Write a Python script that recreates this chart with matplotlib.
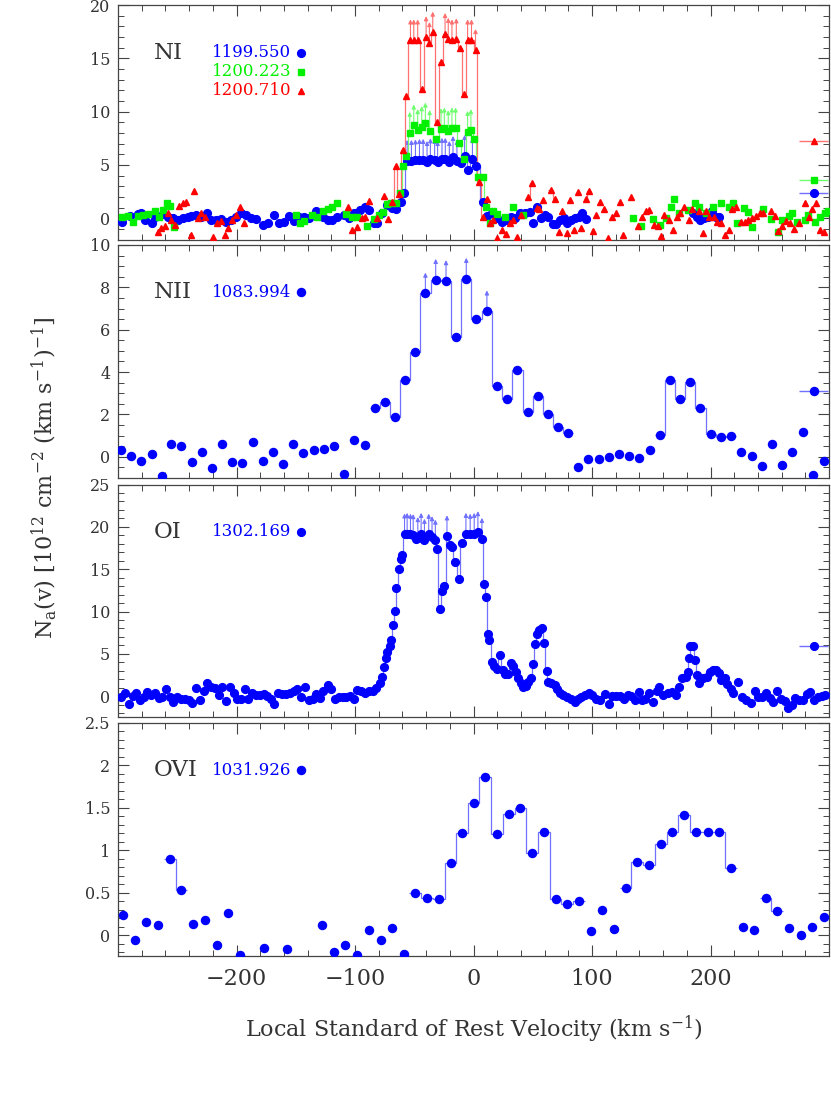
#!/usr/bin/env python3
import matplotlib
matplotlib.use("Agg")
import matplotlib.pyplot as plt
import numpy as np
from matplotlib.ticker import MultipleLocator, FixedLocator, FormatStrFormatter
from matplotlib.transforms import offset_copy


# ---- N I, three lines (velocity in km/s, Na(v) in 1e12 cm^-2 (km/s)^-1) ----
NI_1199_V = [-296.9, -289.9, -282.9, -280.7, -277.3, -271.7, -268.9, -261.9, -257.7, -253.5,
             -249.3, -245.1, -240.9, -238.1, -233.9, -229.7, -224.6, -221.3, -217.1, -212.9,
             -208.7, -204.5, -200.3, -196.1, -191.9, -187.6, -183.4, -177.8, -173.6, -168.1,
             -163.9, -159.7, -155.5, -151.3, -147.1, -142.8, -138.6, -133.0, -127.4, -123.2,
             -119.0, -114.8, -109.2, -105.0, -100.8, -95.8, -91.6, -88.2, -84.0, -81.2,
             -77.0, -72.8, -68.6, -65.8, -61.6, -58.8, -56.0, -52.4, -49.0, -45.6,
             -42.5, -39.2, -36.4, -32.8, -30.3, -26.6, -23.8, -20.4, -17.3, -14.0,
             -10.3, -7.5, -4.3, -0.9, 2.2, 8.4, 11.8, 15.4, 19.6, 23.8,
             28.0, 31.4, 35.0, 39.2, 43.4, 47.6, 50.4, 53.3, 56.9, 60.2,
             63.0, 66.7, 70.0, 72.8, 76.2, 79.0, 82.6, 86.0, 89.1, 91.9,
             95.2, 184.9, 188.3, 191.1, 194.7, 198.3, 201.2, 204.5, 207.3]
NI_1199_N = [-0.32, 0.22, 0.37, 0.47, -0.16, -0.41, 0.15, 0.40, 0.15, 0.00,
             -0.16, 0.00, 0.15, 0.22, 0.31, 0.15, 0.47, -0.16, -0.16, -0.06,
             -0.32, -0.16, 0.15, 0.53, 0.31, 0.00, -0.10, -0.63, -0.41, 0.31,
             -0.41, -0.32, 0.22, -0.22, 0.15, 0.15, 0.00, 0.68, 0.15, -0.16,
             -0.16, 0.15, 0.31, 0.00, 0.47, 0.78, 1.03, 0.78, -0.41, -0.41,
             0.47, 1.25, 0.94, 0.84, 1.56, 2.34, 5.40, 5.40, 5.45, 5.50,
             5.50, 5.30, 5.55, 5.50, 5.30, 5.60, 5.60, 5.30, 5.77, 5.40,
             5.15, 5.87, 4.55, 5.60, 4.93, 1.53, 0.22, 0.47, 0.00, -0.32,
             -0.16, 0.15, 0.00, 0.47, 0.53, 0.62, -0.41, 1.03, 0.00, 0.31,
             0.15, -0.56, -0.53, -0.16, 0.00, -0.41, -0.16, 0.00, 0.15, 0.47,
             -0.06, 0.53, 0.15, -0.16, 0.00, 0.09, 0.71, 0.15, 0.09]
NI_1199_LIM = [-56.0, -52.4, -49.0, -45.6, -42.5, -39.2, -36.4, -32.8, -30.3, -26.6,
               -23.8, -20.4, -17.3, -14.0, -7.5, -0.9]

NI_1200A_V = [-296.3, -291.3, -287.1, -282.9, -278.7, -274.5, -268.9, -265.5, -261.9, -258.8,
              -256.0, -252.7, -149.9, -146.2, -142.8, -136.7, -132.2, -127.4, -123.2, -119.0,
              -114.8, -107.8, -102.2, -98.0, -89.6, -84.0, -79.8, -76.2, -72.8, -69.4,
              -65.8, -62.1, -59.4, -56.8, -53.8, -50.4, -47.1, -43.7, -40.6, -37.0,
              -31.3, -27.4, -24.6, -21.3, -18.2, -15.1, -12.0, -8.4, -5.0, -2.2,
              0.8, 4.2, 7.6, 10.7, 14.0, 16.8, 20.2, 26.6, 33.1, 42.0,
              135.0, 141.5, 151.3, 157.7, 162.5, 166.5, 169.5, 173.7, 180.7, 187.1,
              189.9, 196.1, 202.2, 209.2, 215.7, 219.1, 222.7, 228.3, 231.9, 234.8,
              244.3, 250.7, 257.2, 260.5, 266.1, 268.9, 273.2, 280.1, 282.4, 288.0,
              292.7, 296.4, 299.2]
NI_1200A_N = [0.15, 0.22, -0.32, 0.22, 0.31, 0.37, 0.68, 0.09, 0.78, 1.46,
              1.15, -0.78, 0.31, -0.47, -0.22, 0.31, 0.15, 0.71, 0.84, 1.03,
              1.46, 0.37, 0.09, 0.09, -0.72, -0.10, 0.31, 0.62, 1.34, 1.40,
              1.40, 2.40, 4.87, 5.87, 8.03, 8.72, 8.28, 8.56, 8.90, 8.20,
              7.40, 8.37, 8.44, 8.18, 8.44, 8.44, 7.08, 5.53, 8.12, 8.28,
              7.46, 3.90, 3.90, 1.03, -0.41, 0.68, 0.37, 0.15, 1.03, 0.31,
              0.00, -0.72, -0.10, -0.66, 0.00, 1.10, 1.78, 0.53, 0.78, 1.47,
              1.09, 0.47, 1.03, 1.40, 1.09, 1.40, -0.41, 0.93, 0.56, -0.78,
              0.84, -0.06, -1.25, -0.16, 0.22, 0.47, -0.32, -0.16, 0.31, -0.32,
              0.15, 0.47, 0.71]
NI_1200A_LIM = [-53.8, -50.4, -47.1, -43.7, -40.6, -37.0, -27.4, -24.6, -21.3, -18.2,
                -15.1, -5.0, -2.2]

NI_1200B_V = [-266.6, -263.8, -260.5, -257.7, -254.9, -251.5, -248.7, -245.1, -242.3, -238.7,
              -235.8, -232.5, -229.7, -226.3, -219.6, -216.3, -212.9, -210.1, -207.3, -203.9,
              -200.3, -197.2, -193.8, -106.0, -102.5, -98.6, -94.5, -91.2, -87.9, -81.8,
              -75.6, -72.3, -68.6, -65.8, -63.0, -59.7, -56.6, -53.2, -50.4, -47.1,
              -43.7, -40.0, -37.2, -34.4, -30.8, -27.4, -24.0, -21.3, -18.2, -14.5,
              -11.2, -7.8, -5.0, -1.7, 1.7, 4.8, 7.8, 11.2, 14.0, 16.8,
              20.2, 23.8, 27.5, 30.8, 33.6, 37.0, 40.1, 46.2, 49.0, 53.2,
              55.5, 58.9, 65.0, 68.7, 72.0, 75.1, 79.0, 81.8, 84.6, 88.3,
              91.1, 94.7, 97.5, 100.8, 103.7, 107.0, 110.1, 113.5, 117.1, 119.9,
              123.3, 126.1, 133.1, 138.7, 142.3, 145.7, 148.5, 151.9, 155.5, 158.3,
              161.1, 164.7, 168.1, 171.5, 174.3, 177.9, 181.5, 184.3, 190.0, 193.3,
              196.1, 198.9, 203.1, 205.9, 208.7, 212.4, 215.7, 218.5, 221.9, 225.5,
              229.2, 232.0, 235.3, 238.1, 241.5, 244.3, 250.7, 254.4, 257.2, 260.0,
              263.3, 267.5, 270.3, 274.5, 279.6, 282.9, 285.7, 289.1, 292.2, 295.5]
NI_1200B_N = [-1.25, -0.88, -0.72, 0.47, -0.16, -0.63, 1.15, 1.46, 1.56, -1.56,
              2.59, 0.00, 0.53, 0.09, -1.78, -0.41, -0.22, -1.56, -0.90, -0.16,
              0.31, 1.09, -0.47, 1.09, -1.09, -0.85, 0.00, 0.15, 1.62, 0.00,
              2.09, -0.06, 1.56, 4.90, 2.28, 6.40, 11.47, 16.70, 16.70, 16.70,
              12.15, 17.00, 16.45, 17.43, 9.00, 14.70, 17.30, 16.85, 16.70, 16.80,
              16.00, 11.70, 16.70, 16.70, 15.80, 3.40, 0.15, 1.78, -0.41, -0.16,
              -1.87, -1.10, -1.50, -0.41, -0.16, -1.72, 0.31, 2.03, 3.28, 0.94,
              0.84, 1.72, 2.65, 1.81, -1.31, 0.71, -1.41, 1.72, -1.10, 2.50,
              -0.94, 1.81, 2.59, -1.16, 0.31, 1.56, 0.87, -1.81, 0.09, 0.47,
              1.50, -1.56, 2.03, -0.69, 0.09, 0.71, 0.78, -0.63, -0.69, -1.63,
              0.31, -0.16, -1.10, 0.09, 0.53, 1.03, -0.16, 0.84, 0.71, -1.41,
              0.71, 0.15, 0.15, -0.32, -0.41, -1.56, -1.10, 0.84, 1.03, -0.32,
              -0.32, -0.16, 0.00, 0.22, 0.47, 0.47, 0.71, 0.25, -1.16, -0.69,
              -0.22, -0.41, -1.00, -0.41, 1.40, 0.09, 0.84, 1.46, -1.10, -1.25]
NI_1200B_LIM = [-53.2, -50.4, -47.1, -40.0, -37.2, -34.4, -24.0, -21.3, -18.2, -14.5,
                -5.0, -1.7, 1.7]

# ---- N II 1083.994 ----
NII_V = [-297.5, -289.0, -280.7, -271.7, -263.0, -254.9, -246.5, -237.5, -229.0, -220.4,
         -212.0, -203.6, -195.0, -186.2, -177.8, -169.2, -160.8, -152.0, -143.7, -135.0,
         -126.3, -117.6, -108.9, -100.5, -91.8, -83.4, -74.8, -66.4, -58.0, -49.3,
         -40.6, -31.9, -23.2, -14.8, -6.1, 2.3, 11.3, 19.9, 28.6, 37.0,
         45.7, 54.1, 62.8, 71.5, 79.8, 88.2, 97.0, 105.6, 114.3, 123.0,
         131.4, 140.0, 148.7, 157.1, 165.8, 174.2, 182.9, 191.5, 200.3, 208.9,
         217.3, 226.0, 234.7, 243.4, 252.0, 260.5, 268.9, 277.9, 286.8, 295.5]
NII_N = [0.32, 0.05, -0.20, 0.14, -0.90, 0.60, 0.49, -0.25, 0.22, -0.54,
         0.60, -0.25, -0.31, 0.70, -0.22, 0.22, -0.35, 0.60, 0.16, 0.30,
         0.36, 0.49, -0.83, 0.79, 0.54, 2.31, 2.59, 1.90, 3.62, 4.93,
         7.71, 8.36, 8.30, 5.64, 8.41, 6.51, 6.87, 3.32, 2.75, 4.08,
         2.13, 2.89, 2.01, 1.42, 1.10, -0.49, -0.12, -0.11, -0.03, 0.11,
         0.03, -0.06, 0.32, 1.04, 3.62, 2.75, 3.55, 2.32, 1.09, 0.93,
         0.97, 0.21, 0.05, -0.45, 0.60, -0.39, 0.22, 1.17, -0.87, -0.19]
NII_LIM = [-40.6, -31.9, -23.2, -6.1, 11.3]

# ---- O I 1302.169 ----
OI_V = [-297.5, -294.1, -290.7, -287.6, -284.6, -281.5, -278.4, -275.3, -272.0, -268.9,
        -265.8, -262.7, -259.4, -256.3, -253.2, -249.8, -246.5, -243.1, -240.3, -237.5,
        -234.1, -231.1, -227.7, -224.6, -221.3, -217.9, -215.1, -212.0, -208.6, -205.6,
        -202.5, -199.4, -196.0, -192.9, -189.9, -186.8, -183.4, -180.3, -177.0, -173.9,
        -170.8, -168.0, -164.6, -161.6, -158.2, -155.1, -151.8, -148.7, -145.6, -142.3,
        -139.2, -135.8, -132.7, -129.7, -126.6, -123.2, -119.9, -116.8, -113.4, -110.3,
        -107.3, -104.2, -101.1, -98.0, -94.6, -91.5, -88.2, -85.1, -82.3, -79.2,
        -77.0, -75.6, -74.2, -72.8, -70.8, -69.4, -67.7, -66.6, -65.0, -63.0,
        -61.6, -60.2, -58.2, -56.0, -53.2, -50.9, -48.4, -47.0, -44.2, -41.4,
        -37.8, -35.0, -32.2, -31.2, -28.5, -26.2, -24.8, -22.4, -19.8, -18.2,
        -16.0, -12.6, -9.7, -6.4, -2.8, 0.6, 3.7, 7.1, 9.2, 10.4,
        12.1, 13.4, 16.0, 17.6, 19.7, 22.4, 24.7, 26.6, 28.9, 31.7,
        33.6, 35.9, 37.8, 39.8, 42.0, 44.0, 46.2, 48.2, 50.4, 51.8,
        53.3, 55.5, 58.0, 59.7, 61.7, 63.1, 65.8, 68.6, 70.6, 72.8,
        75.7, 79.0, 82.1, 85.5, 88.3, 91.1, 93.9, 97.2, 100.3, 103.7,
        106.4, 110.7, 114.0, 117.1, 120.5, 123.8, 126.6, 130.3, 133.3, 136.2,
        139.5, 142.3, 145.1, 148.5, 151.8, 154.6, 156.9, 160.3, 163.9, 167.3,
        170.9, 173.7, 176.0, 179.3, 180.7, 181.6, 183.0, 185.0, 186.9, 188.6,
        190.5, 193.3, 196.7, 199.5, 202.3, 204.5, 206.8, 208.7, 212.1, 214.3,
        217.1, 219.1, 223.5, 226.9, 230.2, 233.9, 237.3, 240.3, 243.7, 246.5,
        249.9, 252.9, 256.3, 259.1, 262.5, 265.5, 268.9, 271.7, 275.1, 278.2,
        281.5, 284.3, 287.7, 290.8, 294.1, 296.9]
OI_N = [-0.08, 0.32, -0.94, 0.04, 0.32, -0.47, -0.08, 0.51, 0.16, 0.43,
        -0.16, -0.08, 0.79, -0.08, -0.67, -0.08, -0.28, -0.39, -0.47, -0.79,
        0.98, -0.47, 0.63, 1.57, 1.10, 0.91, 0.12, 1.10, -0.59, 1.10,
        0.32, -0.28, -0.28, 0.79, -0.35, 0.32, 0.12, 0.12, 0.20, 0.00,
        -0.39, -0.87, 0.32, 0.20, 0.24, 0.43, 0.63, 0.79, -0.08, 1.10,
        -0.47, -0.28, 0.20, -0.16, 0.63, 1.30, 0.79, -0.28, -0.08, -0.08,
        -0.08, 0.04, -0.28, 0.71, 0.63, 0.32, 0.59, 0.59, 1.02, 1.50,
        2.28, 3.46, 4.45, 5.16, 5.90, 6.69, 8.38, 10.04, 12.79, 15.07,
        16.26, 16.73, 19.13, 19.20, 19.10, 19.05, 18.60, 18.70, 19.20, 18.50,
        19.10, 18.80, 18.40, 17.40, 10.27, 12.40, 13.00, 18.90, 17.90, 17.60,
        15.90, 13.80, 18.10, 19.20, 19.10, 19.20, 19.40, 18.60, 13.20, 11.70,
        7.40, 6.60, 4.05, 3.54, 3.23, 4.84, 3.07, 2.60, 2.60, 3.86,
        3.54, 2.87, 2.20, 1.57, 1.03, 1.18, 1.69, 2.20, 3.78, 6.14,
        7.30, 7.80, 8.10, 6.30, 2.95, 1.69, 1.50, 1.30, 0.79, 0.32,
        0.12, -0.08, -0.39, -0.67, -0.28, -0.08, 0.12, 0.43, 0.12, -0.39,
        -0.47, 0.24, -0.98, 0.04, 0.04, 0.00, -0.35, 0.12, 0.00, -0.43,
        0.47, -0.47, -0.28, 0.32, -0.67, 0.63, 1.10, 0.12, 0.32, 0.47,
        0.12, 1.10, 2.09, 2.28, 2.87, 4.45, 5.94, 5.90, 4.25, 2.48,
        1.61, 2.09, 2.28, 2.87, 3.15, 3.15, 2.76, 1.89, 2.09, 1.42,
        0.79, 0.32, 1.69, -0.08, -0.47, -0.79, 0.63, -0.08, -0.08, 0.32,
        -0.16, -0.67, 0.63, -0.35, -0.55, -1.42, -1.10, -0.16, -0.47, -0.47,
        0.20, 0.51, -0.47, -0.08, 0.00, 0.08]
OI_LIM = [-58.2, -56.0, -53.2, -50.9, -47.0, -44.2, -41.4, -37.8, -35.0, -32.2,
          -22.4, -6.4, -2.8, 0.6, 3.7, 7.1]

# ---- O VI 1031.926 ----
OVI_V = [-295.8, -285.9, -276.1, -266.0, -256.3, -246.5, -236.4, -226.6, -216.8, -207.0,
         -196.9, -177.0, -157.4, -127.9, -117.8, -108.1, -98.3, -88.2, -78.4, -68.6,
         -58.8, -49.0, -38.9, -29.1, -19.3, -9.5, 0.0, 9.8, 19.9, 29.7,
         39.5, 49.3, 59.4, 69.2, 79.0, 88.8, 98.9, 108.7, 118.5, 128.3,
         138.2, 148.2, 158.0, 167.8, 177.9, 187.7, 197.5, 207.3, 217.1, 227.0,
         236.7, 246.5, 256.3, 266.1, 276.0, 285.7, 295.5]
OVI_N = [0.236, -0.06, 0.153, 0.114, 0.893, 0.53, 0.126, 0.177, -0.114, 0.255,
         -0.236, -0.15, -0.17, 0.118, -0.2, -0.12, -0.23, 0.06, -0.055, 0.078,
         -0.22, 0.49, 0.44, 0.43, 0.845, 1.2, 1.56, 1.867, 1.19, 1.427,
         1.5, 0.97, 1.21, 0.43, 0.365, 0.4, 0.047, 0.295, 0.075, 0.554,
         0.86, 0.825, 1.077, 1.22, 1.41, 1.215, 1.215, 1.215, 0.79, 0.094,
         0.063, 0.436, 0.28, 0.083, 0.004, 0.09, 0.21]

# velocity ranges drawn as histograms
NI_1199_STEPS = [(-62, 9)]
NI_1200A_STEPS = [(-63, 11)]
NI_1200B_STEPS = [(-69, 8), (45, 50), (64, 70), (94, 98)]
NII_STEPS = [(-84, 80), (157, 218)]
OI_STEPS = [(-80, 64), (175, 191)]
OVI_STEPS = [(-257, -246), (-50, 89), (128, 218), (246, 257)]

# integrated values shown at the right edge
NI_TOTALS = [2.40, 3.59, 7.24]
NII_TOTAL = 3.11
OI_TOTAL = 5.94
TOTAL_V = 287.0

VEL_TICKS = [-200, -100, 0, 100, 200]

BLUE, GREEN, RED = "#0000ff", "#00f000", "#ff0000"
BLUE_L, GREEN_L, RED_L = "#7070ff", "#70ff70", "#ff7070"
TEXT = "#333333"


def draw_steps(ax, v, n, ranges, color):
    v = np.asarray(v)
    n = np.asarray(n)
    for lo, hi in ranges:
        m = (v >= lo) & (v <= hi)
        vv, nn = v[m], n[m]
        mids = (vv[1:] + vv[:-1]) / 2
        edges = np.concatenate([[vv[0] - (vv[1] - vv[0]) / 2], mids,
                                [vv[-1] + (vv[-1] - vv[-2]) / 2]])
        ax.stairs(nn, edges, baseline=None, color=color, lw=0.9, zorder=2)


def draw_limits(ax, v, n, lims, color):
    up = offset_copy(ax.transData, fig=ax.figure, x=0, y=15, units="points")
    v = np.asarray(v)
    for x in lims:
        i = int(np.argmin(np.abs(v - x)))
        ax.annotate("", xy=(v[i], n[i]), xycoords=up,
                    xytext=(v[i], n[i]), textcoords="data",
                    arrowprops=dict(arrowstyle="-|>", color=color, lw=0.8,
                                    mutation_scale=6, shrinkA=0, shrinkB=0),
                    zorder=2)


def series(ax, v, n, steps, lims, marker, ms, color, light):
    draw_steps(ax, v, n, steps, light)
    if lims:
        draw_limits(ax, v, n, lims, light)
    ax.plot(v, n, ls="none", marker=marker, ms=ms, color=color, mec=color, zorder=3)


def total(ax, val, marker, ms, color, light):
    ax.errorbar(TOTAL_V, val, xerr=12.5, fmt="none", ecolor=light, elinewidth=1.0,
                capsize=0, zorder=2)
    ax.plot(TOTAL_V, val, marker=marker, ms=ms, color=color, zorder=3)


def label(ax, ion, lines):
    ax.text(0.0506, 0.797, ion, transform=ax.transAxes, fontsize=16.5,
            color=TEXT, va="center", ha="left")
    for k, (txt, marker, ms, color) in enumerate(lines):
        y = 0.797 - k * 0.081
        ax.text(0.132, y, txt, transform=ax.transAxes, fontsize=12,
                color=color, va="center", ha="left")
        ax.plot(0.257, y, marker=marker, ms=ms, color=color,
                transform=ax.transAxes, clip_on=False)


def style(ax, ylim, major, minor, bottom):
    ax.set_xlim(-300, 300)
    ax.set_ylim(*ylim)
    ax.xaxis.set_major_locator(FixedLocator(VEL_TICKS))
    ax.xaxis.set_minor_locator(MultipleLocator(20))
    ax.yaxis.set_major_locator(MultipleLocator(major))
    ax.yaxis.set_minor_locator(MultipleLocator(minor))
    ax.yaxis.set_major_formatter(FormatStrFormatter("%g"))
    ax.tick_params(which="both", direction="in", top=True, right=True, color="#444444")
    ax.tick_params(which="major", length=8, width=0.8)
    ax.tick_params(which="minor", length=4, width=0.7)
    ax.tick_params(axis="y", labelsize=11.5, labelcolor=TEXT, pad=5.5)
    ax.tick_params(axis="x", labelsize=16, labelcolor=TEXT, pad=8.5,
                   labelbottom=bottom)
    for s in ax.spines.values():
        s.set_color("#444444")
        s.set_linewidth(0.9)


def main():
    plt.rcParams["font.family"] = "DejaVu Serif"
    plt.rcParams["mathtext.fontset"] = "dejavuserif"

    fig = plt.figure(figsize=(8.31, 10.96), dpi=100)
    left, width = 0.142, 0.8556
    ax1 = fig.add_axes([left, 0.7814, width, 0.2140])
    ax2 = fig.add_axes([left, 0.5639, width, 0.2126])
    ax3 = fig.add_axes([left, 0.3455, width, 0.2124])
    ax4 = fig.add_axes([left, 0.1275, width, 0.2129])

    # N I
    series(ax1, NI_1199_V, NI_1199_N, NI_1199_STEPS, NI_1199_LIM, "o", 5.6, BLUE, BLUE_L)
    series(ax1, NI_1200A_V, NI_1200A_N, NI_1200A_STEPS, NI_1200A_LIM, "s", 4.0, GREEN, GREEN_L)
    series(ax1, NI_1200B_V, NI_1200B_N, NI_1200B_STEPS, NI_1200B_LIM, "^", 4.8, RED, RED_L)
    total(ax1, NI_TOTALS[0], "o", 5.6, BLUE, BLUE_L)
    total(ax1, NI_TOTALS[1], "s", 4.0, GREEN, GREEN_L)
    total(ax1, NI_TOTALS[2], "^", 4.8, RED, RED_L)
    label(ax1, "NI", [("1199.550", "o", 5.6, BLUE), ("1200.223", "s", 4.0, GREEN),
                      ("1200.710", "^", 4.8, RED)])
    style(ax1, (-2, 20), 5, 1, False)

    # N II
    series(ax2, NII_V, NII_N, NII_STEPS, NII_LIM, "o", 5.8, BLUE, BLUE_L)
    total(ax2, NII_TOTAL, "o", 5.8, BLUE, BLUE_L)
    label(ax2, "NII", [("1083.994", "o", 5.8, BLUE)])
    style(ax2, (-1, 10), 2, 0.5, False)

    # O I
    series(ax3, OI_V, OI_N, OI_STEPS, OI_LIM, "o", 5.6, BLUE, BLUE_L)
    total(ax3, OI_TOTAL, "o", 5.6, BLUE, BLUE_L)
    label(ax3, "OI", [("1302.169", "o", 5.6, BLUE)])
    style(ax3, (-2.5, 25), 5, 1, False)

    # O VI
    series(ax4, OVI_V, OVI_N, OVI_STEPS, [], "o", 5.8, BLUE, BLUE_L)
    label(ax4, "OVI", [("1031.926", "o", 5.8, BLUE)])
    style(ax4, (-0.25, 2.5), 0.5, 0.1, True)

    fig.text(0.5698, 0.0611, "Local Standard of Rest Velocity (km s$^{-1}$)",
             ha="center", va="center", fontsize=16, color=TEXT)
    fig.text(0.053, 0.564,
             r"N$_{\rm a}$(v) [10$^{12}$ cm$^{-2}$ (km s$^{-1}$)$^{-1}$]",
             rotation=90, ha="center", va="center", fontsize=16, color=TEXT)

    fig.savefig("out.png", dpi=100)


if __name__ == "__main__":
    main()
